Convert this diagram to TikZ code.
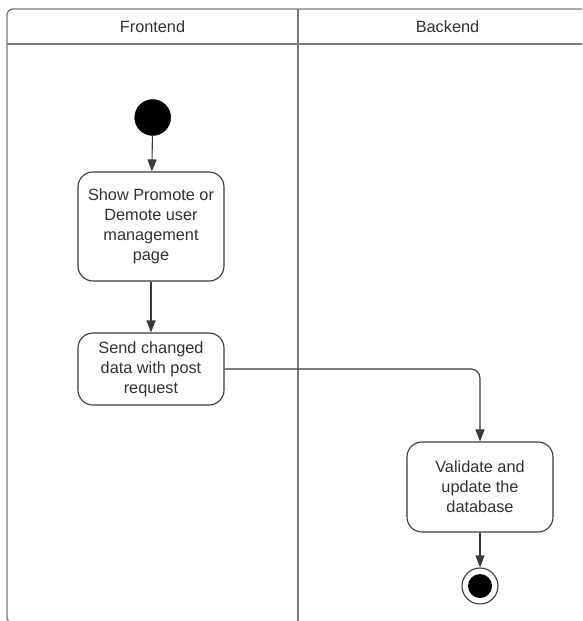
\documentclass[tikz,border=0pt]{standalone}
\usepackage{fontspec}
\setmainfont{Liberation Sans}
\usetikzlibrary{arrows.meta}
\definecolor{txt}{HTML}{333333}
\definecolor{edge}{HTML}{3A3A3A}
\definecolor{lane}{HTML}{7A7A7A}
\tikzset{
  lanebox/.style={draw=lane, line width=1.3pt},
  label/.style={font=\fontsize{16.3}{20}\selectfont, text=txt},
  activity/.style={draw=edge, line width=1.1pt, rounded corners=15pt, fill=white,
    align=center, font=\fontsize{16.3}{20}\selectfont, text=txt, inner sep=0pt},
  startdot/.style={circle, fill=black, draw=black, minimum size=36pt, inner sep=0pt},
  enddot/.style={circle, draw=edge, line width=1.1pt, fill=white, minimum size=36pt, inner sep=0pt},
  flow/.style={draw=edge, line width=1.1pt, -{Triangle[length=12pt,width=9pt]}},
}
\begin{document}
\begin{tikzpicture}[x=1pt,y=-1pt]
\useasboundingbox (0,0) rectangle (582,621);
\fill[white] (0,0) rectangle (582,621);

% swimlane frame
\begin{scope}
  \clip (0,0) rectangle (582,621);
  \draw[lanebox, rounded corners=6pt] (600,9) -- (7,9) -- (7,623) -- (600,623);
  \draw[lanebox] (7,44) -- (600,44);
  \draw[lanebox] (298,9) -- (298,630);
\end{scope}
\node[label] (hfront) at (152.5,26.5) {Frontend};
\node[label] (hback) at (447.5,26.5) {Backend};

% activities
\node[startdot] (start) at (152.7,117.5) {};
\node[activity, minimum width=146pt, minimum height=109pt] (show) at (151,226.5)
  {Show Promote or\\Demote user\\management\\page};
\node[activity, minimum width=146pt, minimum height=72pt] (send) at (151,369)
  {Send changed\\data with post\\request};
\node[activity, minimum width=146pt, minimum height=90pt] (valid) at (480,487)
  {Validate and\\update the\\database};
\node[enddot] (stop) at (480,586) {};
\fill[black] (stop.center) circle (12pt);

% control flow
\draw[flow] (start) -- (show);
\draw[flow] (show) -- (send);
\draw[flow, rounded corners=9pt] (send.east) -| (valid.north);
\draw[flow] (valid) -- (stop);
\end{tikzpicture}
\end{document}
